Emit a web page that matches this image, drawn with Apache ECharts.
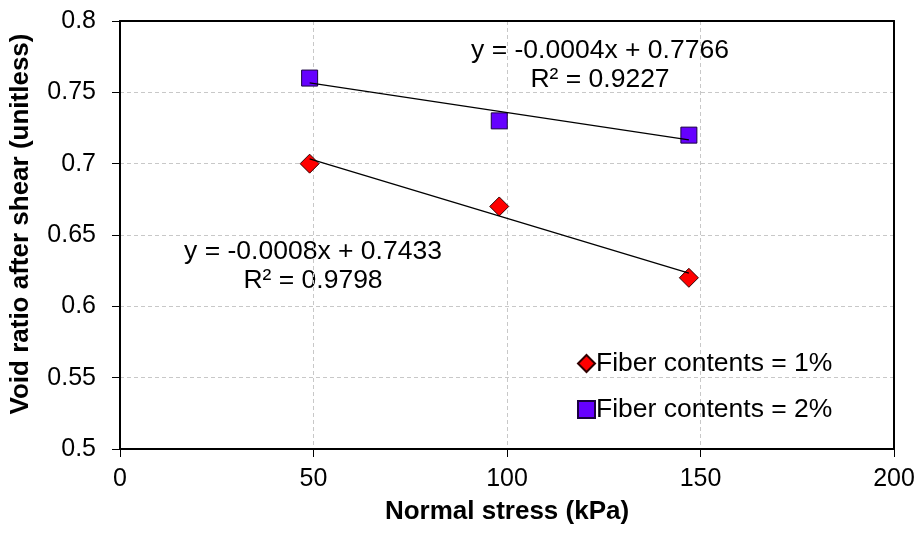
<!DOCTYPE html>
<html>
<head>
<meta charset="utf-8">
<script src="https://cdn.jsdelivr.net/npm/echarts@6/dist/echarts.min.js"></script>
<style>
html,body{margin:0;padding:0;background:#fff;}
#chart{width:920px;height:537px;}
</style>
</head>
<body>
<div id="chart"></div>
<script>
// Data
var stress = [49, 98, 147];
var voidFiber1 = [0.70, 0.67, 0.62];
var voidFiber2 = [0.76, 0.73, 0.72];
var seriesNames = ['Fiber contents = 1%', 'Fiber contents = 2%'];
var eqText1 = ['y = -0.0008x + 0.7433', 'R² = 0.9798'];
var eqText2 = ['y = -0.0004x + 0.7766', 'R² = 0.9227'];
var yTicks = {min: 0.5, max: 0.8, interval: 0.05};
var xTicks = {min: 0, max: 200, interval: 50};

function pairs(xs, ys) { return xs.map(function (x, i) { return [x, ys[i]]; }); }
function trend(xs, ys) {
  var n = xs.length, mx = 0, my = 0;
  for (var i = 0; i < n; i++) { mx += xs[i]; my += ys[i]; }
  mx /= n; my /= n;
  var sxy = 0, sxx = 0;
  for (var j = 0; j < n; j++) { sxy += (xs[j] - mx) * (ys[j] - my); sxx += (xs[j] - mx) * (xs[j] - mx); }
  var b = sxy / sxx, a = my - b * mx;
  var x0 = Math.min.apply(null, xs), x1 = Math.max.apply(null, xs);
  return [[x0, a + b * x0], [x1, a + b * x1]];
}

var FONT = '"Liberation Sans", Arial, sans-serif';
var chart = echarts.init(document.getElementById('chart'), null, {renderer: 'canvas'});
var gridLine = {show: true, lineStyle: {color: '#c8c8c8', type: [4, 3], width: 1}};
var frameAxis = {
  axisLine: {show: true, onZero: false, lineStyle: {color: '#000', width: 2}},
  axisTick: {show: false}, axisLabel: {show: false}, splitLine: {show: false}
};

chart.setOption({
  animation: false,
  backgroundColor: '#fff',
  grid: {left: 120, right: 26, top: 21, bottom: 88, show: false},
  xAxis: [{
    type: 'value', min: xTicks.min, max: xTicks.max, interval: xTicks.interval,
    name: 'Normal stress (kPa)', nameLocation: 'middle', nameGap: 50,
    nameTextStyle: {fontFamily: FONT, fontSize: 26, fontWeight: 'bold', color: '#000'},
    axisLine: {show: true, onZero: false, lineStyle: {color: '#000', width: 2}},
    axisTick: {show: true, inside: false, length: 8, lineStyle: {color: '#000', width: 1}},
    axisLabel: {fontFamily: FONT, fontSize: 25, color: '#000', margin: 18},
    splitLine: gridLine
  }, Object.assign({type: 'value', position: 'top', min: xTicks.min, max: xTicks.max, interval: xTicks.interval}, frameAxis)],
  yAxis: [{
    type: 'value', min: yTicks.min, max: yTicks.max, interval: yTicks.interval,
    name: 'Void ratio after shear (unitless)', nameLocation: 'middle', nameGap: 86,
    nameTextStyle: {fontFamily: FONT, fontSize: 26, fontWeight: 'bold', color: '#000', padding: [0, 0, 0, 22]},
    axisLine: {show: true, onZero: false, lineStyle: {color: '#000', width: 2}},
    axisTick: {show: true, inside: false, length: 8, lineStyle: {color: '#000', width: 1}},
    axisLabel: {fontFamily: FONT, fontSize: 25, color: '#000', margin: 24,
      formatter: function (v) { return String(parseFloat(v.toFixed(2))); }},
    splitLine: gridLine
  }, Object.assign({type: 'value', position: 'right', min: yTicks.min, max: yTicks.max, interval: yTicks.interval}, frameAxis)],
  legend: {
    orient: 'vertical', left: 572, top: 345, padding: 5,
    itemWidth: 17, itemHeight: 17, itemGap: 19,
    textStyle: {fontFamily: FONT, fontSize: 26.5, color: '#000', padding: [0, 0, 0, -4]},
    data: [{name: seriesNames[0], icon: 'diamond'}, {name: seriesNames[1], icon: 'rect'}]
  },
  series: [
    {name: seriesNames[0], type: 'scatter', symbol: 'diamond', symbolSize: 19, z: 3,
      itemStyle: {color: '#ff0000', borderColor: '#300000', borderWidth: 1, opacity: 1},
      data: pairs(stress, voidFiber1)},
    {name: seriesNames[1], type: 'scatter', symbol: 'rect', symbolSize: 16, z: 3,
      itemStyle: {color: '#6600ff', borderColor: '#1a0040', borderWidth: 1, opacity: 1},
      data: pairs(stress, voidFiber2)},
    {name: 'trend1', type: 'line', showSymbol: false, symbol: 'none', z: 5, silent: true,
      lineStyle: {color: '#000', width: 1.3}, data: trend(stress, voidFiber1)},
    {name: 'trend2', type: 'line', showSymbol: false, symbol: 'none', z: 5, silent: true,
      lineStyle: {color: '#000', width: 1.3}, data: trend(stress, voidFiber2)}
  ],
  graphic: [
    {type: 'text', x: 600, y: 65, style: {text: eqText2.join('\n'), align: 'center', verticalAlign: 'middle', lineHeight: 29, fontFamily: FONT, fontSize: 26.5, fill: '#000'}},
    {type: 'text', x: 313, y: 266, style: {text: eqText1.join('\n'), align: 'center', verticalAlign: 'middle', lineHeight: 29, fontFamily: FONT, fontSize: 26.5, fill: '#000'}}
  ]
});
</script>
</body>
</html>
